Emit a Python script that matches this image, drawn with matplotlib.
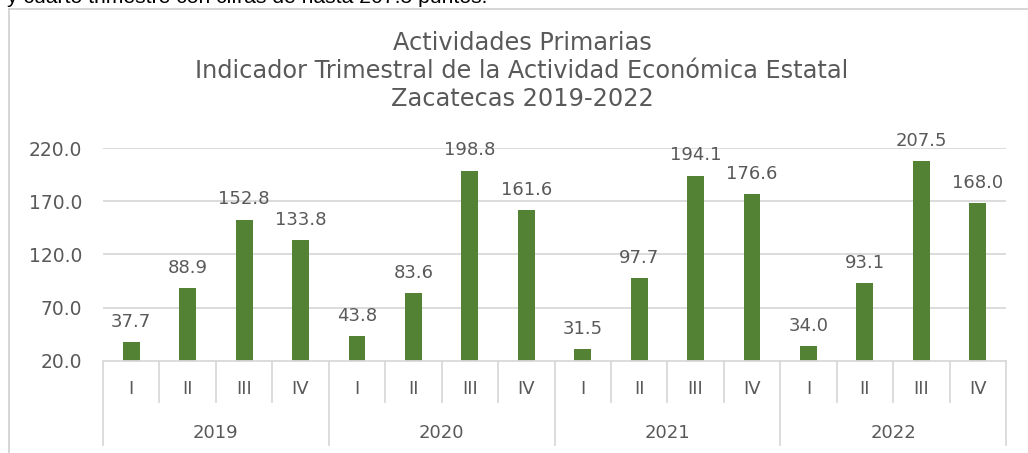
import matplotlib
matplotlib.use("Agg")
import matplotlib.pyplot as plt
import numpy as np
from matplotlib.transforms import blended_transform_factory

years = ["2019", "2020", "2021", "2022"]
quarters = ["I", "II", "III", "IV"]
values = [37.7, 88.9, 152.8, 133.8,
          43.8, 83.6, 198.8, 161.6,
          31.5, 97.7, 194.1, 176.6,
          34.0, 93.1, 207.5, 168.0]
yticks = [20.0, 70.0, 120.0, 170.0, 220.0]
title_lines = ["Actividades Primarias",
               "Indicador Trimestral de la Actividad Económica Estatal",
               "Zacatecas 2019-2022"]
top_text = "y cuarto trimestre con cifras de hasta 207.5 puntos."

W, H = 1028, 453
fig = plt.figure(figsize=(W / 100, H / 100), dpi=100)
plt.rcParams['font.family'] = ['DejaVu Sans']
txt_color = '#595959'
bar_color = '#548235'
grid_color = '#d9d9d9'
fs = 13

# frame lines of chart area
fig.add_artist(plt.Line2D([9 / W, 9 / W], [0, 1 - 9 / H], color='#d0d0d0', lw=1.2))
fig.add_artist(plt.Line2D([9 / W, 1], [1 - 9 / H, 1 - 9 / H], color='#d0d0d0', lw=1.2))
fig.text(7 / W, 1 - 3 / H, top_text, fontsize=15.2, family='Liberation Sans',
         color='black', va='baseline', ha='left')

left, right = 103 / W, 1006 / W
bottom, top = 1 - 361 / H, 1 - 148 / H
ax = fig.add_axes([left, bottom, right - left, top - bottom])

x = np.arange(len(values))
ax.bar(x, np.array(values) - yticks[0], bottom=yticks[0], width=0.3, color=bar_color, zorder=3)
ax.set_xlim(-0.5, len(values) - 0.5)
ax.set_ylim(yticks[0], yticks[-1])
ax.set_yticks(yticks)
ax.set_yticklabels([f"{v:.1f}" for v in yticks], fontsize=13.5, color=txt_color)
ax.tick_params(axis='y', length=0, pad=15)
ax.set_xticks([])
for s in ax.spines.values():
    s.set_visible(False)
for v in yticks[1:]:
    ax.axhline(v, color=grid_color, lw=1.3, zorder=1)
ax.axhline(yticks[0], color=grid_color, lw=1.3, zorder=4, clip_on=False)

for xi, v in zip(x, values):
    ax.annotate(f"{v:.1f}", (xi, v), xytext=(0, 8), textcoords='offset points',
                ha='center', va='bottom', fontsize=fs, color=txt_color,
                annotation_clip=False)

trans = blended_transform_factory(ax.transData, fig.transFigure)
q_bot = 1 - 402 / H
y_bot = 1 - 445 / H
for i in range(len(values) + 1):
    xb = i - 0.5
    yb = y_bot if i % 4 == 0 else q_bot
    ax.plot([xb, xb], [bottom, yb], transform=trans, color=grid_color, lw=1.3, clip_on=False)
for xi in x:
    ax.text(xi, 1 - 389 / H, quarters[xi % 4], transform=trans, ha='center', va='center',
            fontsize=fs, color=txt_color)
for k, yr in enumerate(years):
    ax.text(4 * k + 1.5, 1 - 433 / H, yr, transform=trans, ha='center', va='center',
            fontsize=fs, color=txt_color)

for j, line in enumerate(title_lines):
    fig.text(522 / W, 1 - (43 + 28 * j) / H, line, ha='center', va='center',
             fontsize=17.3, color=txt_color)

fig.savefig("out.png", dpi=100)
